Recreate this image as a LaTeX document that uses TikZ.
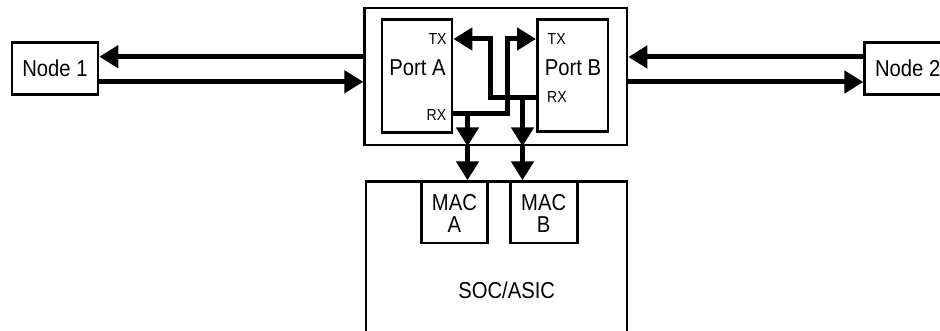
\documentclass[tikz,border=0pt]{standalone}
\usepackage{fontspec}
\setmainfont{Liberation Sans}[FakeStretch=0.88]
\usetikzlibrary{arrows.meta}
\begin{document}
\begin{tikzpicture}[x=1pt,y=-1pt,
  box/.style={draw, line width=2.7pt, inner sep=0pt},
  arr/.style={line width=5pt, -{Triangle[length=19pt,width=22pt]}},
  big/.style={font=\fontsize{23}{20}\selectfont, inner sep=0pt},
  capline/.style={big, text height=16.5pt, text depth=0pt},
  small/.style={font=\fontsize{16}{18}\selectfont, inner sep=0pt}]
\clip (0,0) rectangle (940,331);
% boxes
\node[box, minimum width=262.3pt, minimum height=137pt] (outer) at (495.8,76.5) {};
\node[box, minimum width=70pt, minimum height=113pt] (portA) at (417,76.3) {};
\node[box, minimum width=70.7pt, minimum height=112pt] (portB) at (572.7,75.7) {};
\node[box, minimum width=261pt, minimum height=170pt] (soc) at (496.5,266.7) {};
\node[box, minimum width=66pt, minimum height=61.3pt] (macA) at (454.4,212.3) {};
\node[box, minimum width=67pt, minimum height=61.3pt] (macB) at (543.7,212.3) {};
\node[box, minimum width=86pt, minimum height=52.4pt] (node1) at (55,68.5) {};
\node[box, minimum width=86pt, minimum height=52.4pt] (node2) at (907.7,68.5) {};
% labels
\node[big] (lA) at (417.5,68) {Port A};
\node[big] (lB) at (573,68) {Port B};
\node[small] (txA) at (437.5,39) {TX};
\node[small] (rxA) at (436.5,115) {RX};
\node[small] (txB) at (556.7,39) {TX};
\node[small] (rxB) at (557,97) {RX};
\node[capline] (lmA1) at (454.4,202) {MAC};
\node[capline] (lmA2) at (454.4,224) {A};
\node[capline] (lmB1) at (543.7,202) {MAC};
\node[capline] (lmB2) at (543.7,224) {B};
\node[big] (lsoc) at (506.7,290) {SOC/ASIC};
\node[big] (l1) at (55,68.5) {Node 1};
\node[big] (l2) at (907.7,68.5) {Node 2};
% junction coordinates
\coordinate (jA) at (507,39);
\coordinate (jB) at (490,39);
\coordinate (dA) at (467.5,113.5);
\coordinate (dB) at (522.5,98);
% node1 / node2 links
\draw[arr] (outer.west |- 0,56.7) -- (node1.east |- 0,56.7);
\draw[arr] (node1.east |- 0,81.8) -- (outer.west |- 0,81.8);
\draw[arr] (node2.west |- 0,57) -- (outer.east |- 0,57);
\draw[arr] (outer.east |- 0,82) -- (node2.west |- 0,82);
% crossing links
\draw[arr] (portA.east |- dA) -| (jA) -- (portB.west |- jA);
\draw[arr] (portB.west |- dB) -| (jB) -- (portA.east |- jB);
% down arrows
\draw[arr] (dA) -- (outer.south -| dA);
\draw[arr] (dB) -- (outer.south -| dB);
\draw[arr] (outer.south -| dA) -- (macA.north -| dA);
\draw[arr] (outer.south -| dB) -- (macB.north -| dB);
\end{tikzpicture}
\end{document}
